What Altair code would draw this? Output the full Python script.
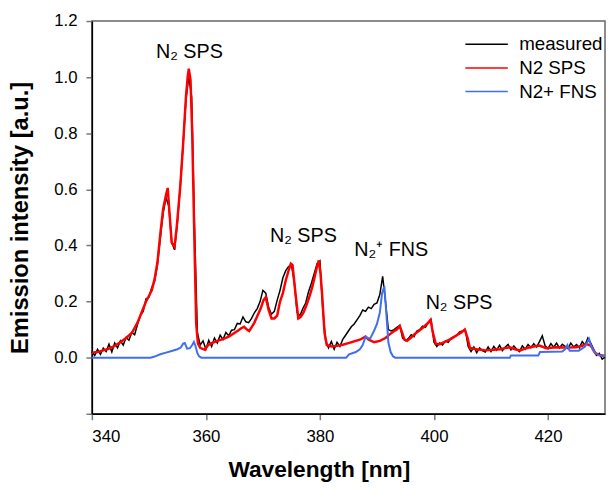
import altair as alt
import pandas as pd
import numpy as np

FONT = "Liberation Sans"

# ---- measured spectrum (0.5 nm grid, 340..430) ----
meas_start, meas_step = 340.0, 0.5
meas_vals = [
    0.022, 0.008, 0.030, 0.012, 0.034, 0.022, 0.048, 0.020, 0.052, 0.035,
    0.060, 0.045, 0.072, 0.062, 0.090, 0.082, 0.118, 0.150, 0.165, 0.210,
    0.215, 0.250, 0.272, 0.330, 0.425, 0.515, 0.570, 0.540, 0.410, 0.385,
    0.480, 0.610, 0.760, 0.920, 1.000, 0.930, 0.470, 0.090, 0.045, 0.060,
    0.030, 0.062, 0.040, 0.070, 0.052, 0.080, 0.065, 0.090, 0.078, 0.098,
    0.100, 0.122, 0.120, 0.145, 0.128, 0.125, 0.140, 0.160, 0.175, 0.200,
    0.240, 0.230, 0.180, 0.155, 0.165, 0.205, 0.240, 0.285, 0.310, 0.325,
    0.330, 0.270, 0.160, 0.150, 0.175, 0.195, 0.235, 0.265, 0.300, 0.335,
    0.345, 0.170, 0.060, 0.035, 0.058, 0.030, 0.055, 0.040, 0.065, 0.080,
    0.095, 0.110, 0.120, 0.135, 0.150, 0.170, 0.165, 0.180, 0.175, 0.190,
    0.195, 0.225, 0.290, 0.200, 0.100, 0.095, 0.100, 0.108, 0.115, 0.070,
    0.060, 0.068, 0.082, 0.075, 0.095, 0.100, 0.112, 0.108, 0.125, 0.135,
    0.055, 0.040, 0.052, 0.045, 0.060, 0.055, 0.070, 0.075, 0.080, 0.092,
    0.095, 0.100, 0.040, 0.022, 0.038, 0.018, 0.035, 0.025, 0.020, 0.038,
    0.022, 0.040, 0.027, 0.044, 0.025, 0.038, 0.047, 0.028, 0.042, 0.030,
    0.022, 0.042, 0.030, 0.047, 0.035, 0.050, 0.038, 0.057, 0.078, 0.042,
    0.032, 0.050, 0.037, 0.052, 0.035, 0.048, 0.040, 0.032, 0.052, 0.038,
    0.047, 0.035, 0.057, 0.045, 0.070, 0.052, 0.030, 0.008, 0.015, -0.005,
    0.002,
]
meas_wl = [meas_start + i * meas_step for i in range(len(meas_vals))]

# ---- N2 SPS simulated ----
sps_wl = [340.0, 341.0, 342.0, 343.0, 344.0, 345.0, 346.0, 347.0, 348.0, 349.0,
          349.5, 350.0, 350.5, 351.0, 351.5, 352.0, 352.5, 353.0, 353.3, 353.6,
          354.0, 354.5, 354.9, 355.5, 356.0, 356.5, 356.8, 357.0, 357.3, 357.6,
          358.0, 358.3, 358.6, 359.0, 359.8, 360.4, 361.0, 362.0, 363.0, 364.0,
          365.0, 365.6, 366.2, 366.7, 367.2, 367.6, 368.0, 368.5, 369.0, 369.6,
          370.1, 370.5, 371.0, 371.5, 372.0, 372.5, 373.0, 373.5, 374.0, 374.5,
          374.9, 375.2, 375.6, 376.2, 376.6, 377.1, 377.6, 378.2, 378.7, 379.1,
          379.5, 379.8, 380.1, 380.4, 380.8, 381.2, 382.0, 383.0, 384.0, 385.0,
          386.0, 387.0, 388.0, 388.5, 389.5, 390.5, 391.5, 392.3, 393.0, 393.5,
          394.0, 394.4, 394.8, 395.3, 396.0, 396.6, 397.5, 398.4, 399.0, 399.4,
          399.8, 400.3, 401.0, 402.0, 403.0, 404.0, 404.8, 405.4, 405.9, 406.3,
          407.5, 409.0, 410.5, 411.6, 412.5, 413.3, 414.2, 415.1, 416.0, 416.8,
          418.5, 419.7, 421.4, 423.1, 424.9, 426.0, 426.6, 427.5, 428.3, 429.0,
          430.0]
sps_vals = [0.018, 0.020, 0.026, 0.032, 0.042, 0.055, 0.070, 0.088, 0.125, 0.175,
            0.200, 0.220, 0.240, 0.280, 0.340, 0.440, 0.530, 0.580, 0.605, 0.520,
            0.410, 0.395, 0.470, 0.610, 0.760, 0.930, 1.000, 1.030, 0.990, 0.800,
            0.400, 0.120, 0.050, 0.035, 0.028, 0.045, 0.052, 0.060, 0.066, 0.075,
            0.088, 0.096, 0.105, 0.110, 0.100, 0.095, 0.108, 0.125, 0.148, 0.175,
            0.205, 0.215, 0.170, 0.140, 0.140, 0.150, 0.200, 0.230, 0.275, 0.310,
            0.335, 0.330, 0.250, 0.140, 0.145, 0.160, 0.185, 0.220, 0.255, 0.290,
            0.325, 0.347, 0.300, 0.220, 0.090, 0.045, 0.040, 0.042, 0.046, 0.052,
            0.058, 0.064, 0.075, 0.065, 0.055, 0.060, 0.070, 0.084, 0.095, 0.100,
            0.113, 0.090, 0.065, 0.060, 0.072, 0.084, 0.098, 0.113, 0.125, 0.135,
            0.090, 0.050, 0.048, 0.057, 0.067, 0.080, 0.090, 0.100, 0.070, 0.035,
            0.030, 0.026, 0.028, 0.030, 0.034, 0.037, 0.030, 0.026, 0.032, 0.037,
            0.043, 0.034, 0.037, 0.036, 0.037, 0.042, 0.049, 0.043, 0.016, 0.010,
            0.006]

# ---- N2+ FNS simulated ----
fns_wl = [340.0, 350.3, 351.0, 352.0, 353.0, 354.0, 355.0, 355.6, 356.0, 356.3,
          356.7, 357.2, 357.6, 357.9, 358.2, 358.5, 358.8, 359.2, 384.6, 385.1,
          386.3, 387.0, 387.5, 388.0, 388.4, 388.8, 389.5, 390.0, 390.5, 390.9,
          391.3, 391.6, 392.0, 392.4, 392.8, 393.2, 413.3, 413.5, 418.3, 418.6,
          422.5, 423.0, 423.4, 423.8, 425.4, 426.5, 427.2, 427.6, 428.0, 428.9,
          430.0]
fns_vals = [0.000, 0.000, 0.004, 0.012, 0.018, 0.024, 0.030, 0.036, 0.050, 0.052,
            0.032, 0.034, 0.045, 0.056, 0.040, 0.016, 0.005, 0.000, 0.000, 0.012,
            0.020, 0.030, 0.045, 0.075, 0.070, 0.068, 0.096, 0.120, 0.160, 0.230,
            0.254, 0.170, 0.055, 0.020, 0.005, 0.000, 0.000, 0.008, 0.008, 0.020,
            0.022, 0.030, 0.045, 0.025, 0.025, 0.040, 0.067, 0.040, 0.023, 0.008,
            0.005]

series_names = ["measured", "N2 SPS", "N2+ FNS"]
series_colors = ["#000000", "#ff0000", "#3f6ef0"]

# ---- annotations ----
ann_wl = [357.1, 377.1, 392.5, 404.4]
ann_val = [1.088, 0.435, 0.382, 0.196]
ann_text = ["N\u2082 SPS", "N\u2082 SPS", "N\u2082\u207a FNS", "N\u2082 SPS"]

df_meas = pd.DataFrame({"wl": meas_wl, "val": meas_vals, "series": "measured", "o": range(len(meas_vals))})
df_sps = pd.DataFrame({"wl": sps_wl, "val": sps_vals, "series": "N2 SPS", "o": range(len(sps_vals))})
df_fns = pd.DataFrame({"wl": fns_wl, "val": fns_vals, "series": "N2+ FNS", "o": range(len(fns_vals))})
df_ann = pd.DataFrame({"wl": ann_wl, "val": ann_val, "text": ann_text})

xscale = alt.Scale(domain=[340, 430], nice=False, zero=False)
yscale = alt.Scale(domain=[-0.2, 1.2], nice=False, zero=False)
cscale = alt.Scale(domain=series_names, range=series_colors)

xaxis = alt.Axis(
    title="Wavelength [nm]", values=[340, 360, 380, 400, 420], grid=False,
    labelFont=FONT, labelFontSize=17, labelColor="#000000", labelPadding=9,
    tickColor="#777777", tickSize=6, tickWidth=1.5,
    domainColor="#000000", domainWidth=1.5,
    titleFont=FONT, titleFontSize=23, titleFontWeight="bold", titleColor="#000000",
    titlePadding=15, titleX=230,
)
yaxis = alt.Axis(
    title="Emission intensity [a.u.]", values=[-0.2, 0, 0.2, 0.4, 0.6, 0.8, 1.0, 1.2], grid=False,
    labelExpr="datum.value < 0 ? '' : format(datum.value, '.1f')",
    labelFont=FONT, labelFontSize=17, labelColor="#000000", labelPadding=9,
    tickColor="#777777", tickSize=6, tickWidth=1.5,
    domainColor="#000000", domainWidth=1.5,
    titleFont=FONT, titleFontSize=24, titleFontWeight="bold", titleColor="#000000",
    titlePadding=22,
)

legend = alt.Legend(
    title=None, orient="none", legendX=374, legendY=14, padding=0,
    symbolType="M-4.3,0H4.3", symbolSize=100, symbolStrokeWidth=1.5,
    symbolOffset=16.5, labelOffset=23.5,
    labelFont=FONT, labelFontSize=19, labelColor="#000000",
    rowPadding=4,
)


def line(df, width):
    return alt.Chart(df).mark_line(strokeWidth=width, interpolate="linear").encode(
        x=alt.X("wl:Q", scale=xscale, axis=xaxis),
        y=alt.Y("val:Q", scale=yscale, axis=yaxis),
        color=alt.Color("series:N", scale=cscale, legend=legend),
        order="o:Q",
    )


texts = alt.Chart(df_ann).mark_text(font=FONT, fontSize=20, color="#000000", align="center", baseline="middle").encode(
    x=alt.X("wl:Q", scale=xscale),
    y=alt.Y("val:Q", scale=yscale),
    text="text:N",
)

chart = alt.layer(
    line(df_meas, 1.5), line(df_sps, 2.5), line(df_fns, 2.0), texts
).properties(
    width=520, height=398,
    autosize=alt.AutoSizeParams(type="none"),
    padding={"left": 85, "top": 10, "right": 1, "bottom": 71},
    background="#ffffff",
).configure_view(stroke="#666666", strokeWidth=1.5)

chart.save("out.html", embed_options={"renderer": "svg", "actions": False})
